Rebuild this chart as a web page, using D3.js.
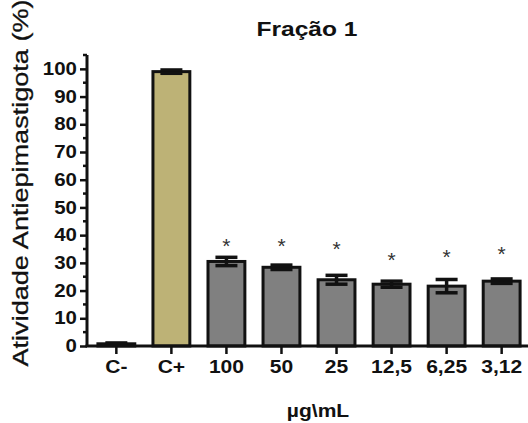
<!DOCTYPE html>
<html>
<head>
<meta charset="utf-8">
<script src="https://cdn.jsdelivr.net/npm/d3@7"></script>
<style>
  html, body { margin: 0; padding: 0; background: #fff; }
  svg { display: block; }
  text { font-family: "Liberation Sans", Arial, sans-serif; fill: #111; }
</style>
</head>
<body>
<svg id="chart" width="528" height="423"></svg>
<script>
// Antiepimastigote activity, fraction 1
const categories = ["C-", "C+", "100", "50", "25", "12,5", "6,25", "3,12"];
const means      = [0.8, 99.0, 30.5, 28.4, 23.9, 22.3, 21.6, 23.4];
const errors     = [0.3, 0.6, 1.5, 0.8, 1.6, 1.1, 2.4, 0.8];
const barColors  = ["#808080", "#BDB276", "#808080", "#808080", "#808080", "#808080", "#808080", "#808080"];
// significance markers ("*") and the level each is drawn at
const sigMarks   = ["", "", "*", "*", "*", "*", "*", "*"];
const sigLevels  = [null, null, 37.8, 37.8, 36.8, 33.0, 34.0, 35.1];
const yTicks     = [0, 10, 20, 30, 40, 50, 60, 70, 80, 90, 100];
const yMinorTicks = [5, 15, 25, 35, 45, 55, 65, 75, 85, 95, 105];

const svg = d3.select("#chart");
const plotLeft = 87, plotRight = 528, plotTop = 55, plotBottom = 346;
const wide = 1.17; // horizontal stretch of the lettering

const x = d3.scaleBand().domain(categories).range([plotLeft + 1, plotRight + 2]).paddingInner(0.33).paddingOuter(0.18);
const y = d3.scaleLinear().domain([0, 105]).range([plotBottom, plotTop]);

// bars
svg.append("g").selectAll("rect").data(categories).join("rect")
  .attr("x", d => x(d))
  .attr("width", x.bandwidth())
  .attr("y", (d, i) => y(means[i]))
  .attr("height", (d, i) => plotBottom - y(means[i]))
  .attr("fill", (d, i) => barColors[i])
  .attr("stroke", "#111")
  .attr("stroke-width", 3);

// error bars
const capHalf = 11;
const eb = svg.append("g").attr("stroke", "#111").attr("stroke-width", 3.5);
categories.forEach((c, i) => {
  const cx = x(c) + x.bandwidth() / 2;
  const hi = y(means[i] + errors[i]), lo = y(Math.max(0, means[i] - errors[i]));
  eb.append("line").attr("x1", cx).attr("x2", cx).attr("y1", hi).attr("y2", lo);
  eb.append("line").attr("x1", cx - capHalf).attr("x2", cx + capHalf).attr("y1", hi).attr("y2", hi);
  eb.append("line").attr("x1", cx - capHalf).attr("x2", cx + capHalf).attr("y1", lo).attr("y2", lo);
});

// significance markers
svg.append("g").selectAll("text").data(categories).join("text")
  .attr("x", d => x(d) + x.bandwidth() / 2)
  .attr("y", (d, i) => sigLevels[i] == null ? 0 : y(sigLevels[i]) + 12)
  .attr("text-anchor", "middle")
  .style("font-size", "21px")
  .style("fill", "#333")
  .text((d, i) => sigMarks[i]);

// y axis
const yAxis = svg.append("g").attr("transform", `translate(${plotLeft},0)`)
  .call(d3.axisLeft(y).tickValues(yTicks).tickSize(7).tickPadding(3).tickFormat(d3.format("d")));
yAxis.select(".domain").attr("d", `M0,${plotTop}V${plotBottom}`).attr("stroke-width", 3).attr("stroke", "#111");
yAxis.selectAll(".tick line").attr("stroke-width", 2.5).attr("stroke", "#111");
yAxis.selectAll(".tick text")
  .style("font-size", "17.5px").style("font-weight", "bold").style("font-family", "'Liberation Sans', Arial, sans-serif")
  .attr("fill", "#111")
  .attr("x", -10 / wide)
  .attr("transform", `scale(${wide},1)`);
yAxis.append("g").selectAll("line").data(yMinorTicks).join("line")
  .attr("x1", -4).attr("x2", 0)
  .attr("y1", d => y(d)).attr("y2", d => y(d))
  .attr("stroke", "#111").attr("stroke-width", 2.5);

// x axis
const xAxis = svg.append("g").attr("transform", `translate(0,${plotBottom})`)
  .call(d3.axisBottom(x).tickSize(8).tickPadding(6));
xAxis.select(".domain").attr("d", `M${plotLeft - 1.5},0H${plotRight}`).attr("stroke-width", 3).attr("stroke", "#111");
xAxis.selectAll(".tick line").attr("stroke-width", 2.5).attr("stroke", "#111");
xAxis.selectAll(".tick text")
  .style("font-size", "18px").style("font-weight", "bold").style("font-family", "'Liberation Sans', Arial, sans-serif")
  .attr("fill", "#111")
  .attr("transform", `scale(${wide},1)`);

// titles
svg.append("text").attr("transform", `translate(307,36) scale(${wide},1)`).attr("text-anchor", "middle")
  .style("font-size", "21px").style("font-weight", "bold").text("Fração 1");
svg.append("text").attr("transform", `translate(318,417) scale(${wide},1)`).attr("text-anchor", "middle")
  .style("font-size", "18px").style("font-weight", "bold").text("µg\\mL");
svg.append("text")
  .attr("transform", "translate(28,183) rotate(-90) scale(1.23,1)")
  .attr("text-anchor", "middle")
  .style("font-size", "22px")
  .style("stroke", "#111").style("stroke-width", 0.3)
  .text("Atividade Antiepimastigota (%)");
</script>
</body>
</html>
